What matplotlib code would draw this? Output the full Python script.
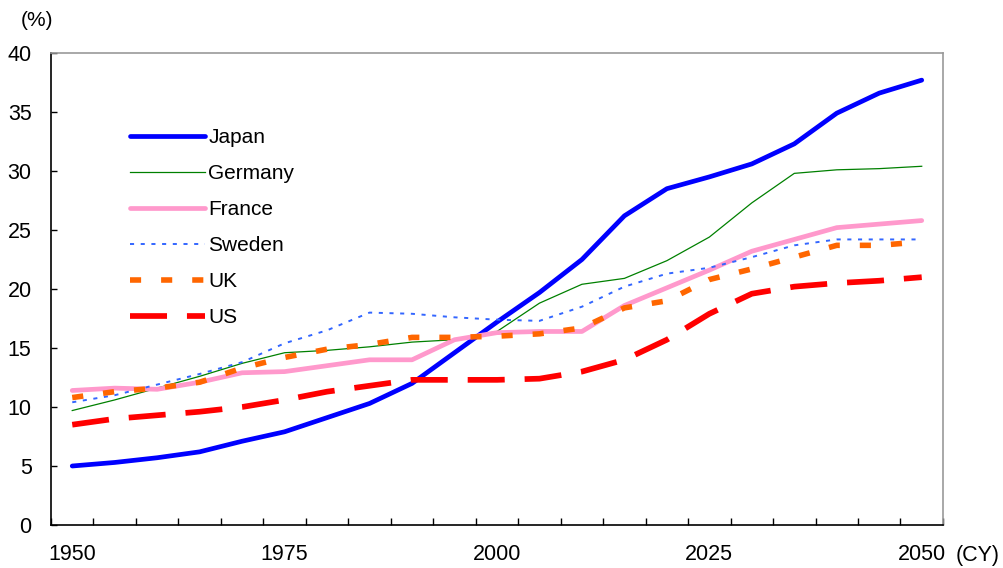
import matplotlib
matplotlib.use("Agg")
import matplotlib.pyplot as plt
from matplotlib.ticker import FixedLocator

plt.rcParams['font.family'] = ['Liberation Sans', 'DejaVu Sans']

years = list(range(1950, 2051, 5))
japan = [5.0, 5.3, 5.7, 6.2, 7.1, 7.9, 9.1, 10.3, 12.0, 14.6, 17.2, 19.7, 22.5, 26.2, 28.5, 29.5, 30.6, 32.3, 34.9, 36.6, 37.7]
germany = [9.7, 10.6, 11.6, 12.6, 13.7, 14.6, 14.8, 15.1, 15.5, 15.7, 16.4, 18.8, 20.4, 20.9, 22.4, 24.4, 27.3, 29.8, 30.1, 30.2, 30.4]
france = [11.4, 11.6, 11.5, 12.1, 12.9, 13.0, 13.5, 14.0, 14.0, 15.7, 16.3, 16.4, 16.4, 18.6, 20.1, 21.6, 23.2, 24.2, 25.2, 25.5, 25.8]
sweden = [10.4, 11.0, 11.9, 12.8, 13.8, 15.4, 16.5, 18.0, 17.9, 17.6, 17.4, 17.3, 18.5, 20.2, 21.3, 21.8, 22.7, 23.7, 24.2, 24.2, 24.2]
uk = [10.8, 11.3, 11.6, 12.1, 13.3, 14.2, 14.9, 15.3, 15.9, 15.9, 16.0, 16.2, 16.7, 18.4, 19.0, 20.8, 21.7, 22.7, 23.7, 23.7, 24.0]
us = [8.5, 9.0, 9.3, 9.6, 10.0, 10.6, 11.3, 11.8, 12.3, 12.3, 12.3, 12.4, 13.0, 14.0, 15.7, 17.9, 19.6, 20.2, 20.5, 20.7, 21.0]
label_years = [1950, 1975, 2000, 2025, 2050]

fig = plt.figure(figsize=(10.04, 5.68), dpi=100)
ax = fig.add_axes([0.0508, 0.0757, 0.8884, 0.831])

ax.plot(years, japan, color='#0000FF', lw=3.4, label='Japan', solid_capstyle='round')
ax.plot(years, germany, color='#008000', lw=0.9, label='Germany')
ax.plot(years, france, color='#FF99CC', lw=3.4, label='France', solid_capstyle='round')
ax.plot(years, sweden, color='#3366FF', lw=1.4, dashes=(2.1, 3.4), label='Sweden')
ax.plot(years, uk, color='#FF6600', lw=4.0, dashes=(2.0, 3.6), label='UK')
ax.plot(years, us, color='#FF0000', lw=4.1, dashes=(6.5, 3.5), label='US')

ax.set_xlim(1947.5, 2052.5)
ax.set_ylim(0, 40)
ax.set_yticks(range(0, 41, 5))
ax.xaxis.set_major_locator(FixedLocator(label_years))
ax.xaxis.set_minor_locator(FixedLocator([1947.5 + 5 * k for k in range(22)]))
ax.tick_params(axis='x', which='major', length=0, pad=14, labelsize=15.5)
ax.tick_params(axis='x', which='minor', direction='in', length=5, width=1)
ax.tick_params(axis='y', direction='in', length=4, width=1, pad=14, labelsize=15.5)

for s in ['left', 'bottom']:
    ax.spines[s].set_color('black')
    ax.spines[s].set_linewidth(1.2)
for s in ['top', 'right']:
    ax.spines[s].set_color('#999999')
    ax.spines[s].set_linewidth(1.2)

ax.legend(loc='upper left', bbox_to_anchor=(130 / 1004, 1 - 128 / 568), bbox_transform=fig.transFigure,
          frameon=False, fontsize=15, handlelength=3.6, handletextpad=0.15, labelspacing=0.82,
          borderpad=0, borderaxespad=0)

fig.text(37 / 1004, 1 - 20 / 568, '(%)', fontsize=15, ha='center', va='center')
fig.text(978 / 1004, 1 - 555 / 568, '(CY)', fontsize=15.5, ha='center', va='center')

fig.savefig('out.png', dpi=100)
